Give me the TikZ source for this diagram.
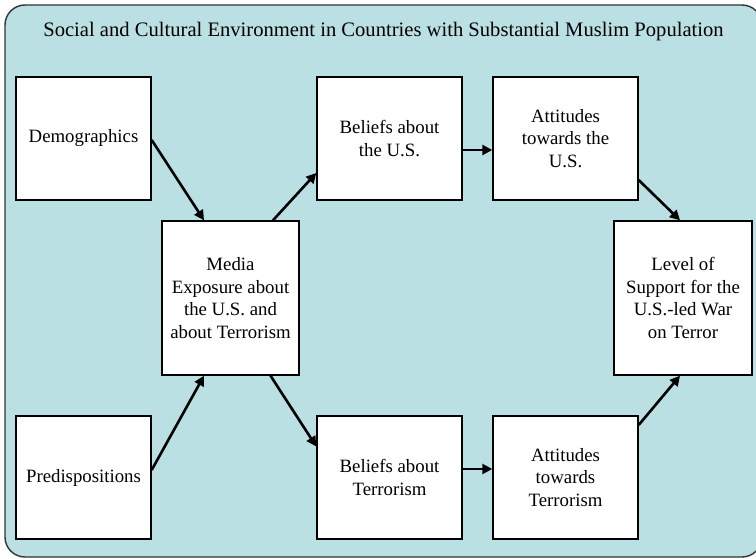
\documentclass[tikz,border=0pt]{standalone}
\usepackage{fontspec}
\setmainfont{Liberation Serif}
\usetikzlibrary{arrows.meta,calc}
\definecolor{envblue}{RGB}{187,224,227}
\begin{document}
\begin{tikzpicture}[x=1pt,y=-1pt,
  box/.style={draw=black,line width=1.4pt,fill=white,inner sep=0pt,align=center,
    font=\fontsize{18.8}{22.6}\selectfont},
  sbox/.style={box,minimum width=135pt,minimum height=123pt},
  wbox/.style={box,minimum width=145pt,minimum height=123pt},
  tbox/.style={box,minimum width=137pt,minimum height=154pt},
  arr/.style={line width=2.6pt,-{Triangle[length=10pt,width=10pt]}}]
\clip (0,0) rectangle (756,559);
\fill[white] (0,0) rectangle (756,559);
\draw[draw=black!80,line width=1.4pt,fill=envblue,rounded corners=20pt] (5,5) rectangle (762,557);
\node[font=\fontsize{20.6}{24.7}\selectfont] (title) at (383.5,31.5) {Social and Cultural Environment in Countries with Substantial Muslim Population};
\node[sbox] (dem) at (83.5,138.5) {Demographics};
\node[sbox] (pre) at (83.5,477.5) {Predispositions};
\node[tbox] (media) at (230.5,298) {Media\\Exposure about\\the U.S. and\\about Terrorism};
\node[wbox] (bus) at (389.5,138.5) {Beliefs about\\the U.S.};
\node[wbox] (aus) at (565.5,138.5) {Attitudes\\towards the\\U.S.};
\node[box,minimum width=138pt,minimum height=154pt] (lev) at (683,298) {Level of\\Support for the\\U.S.-led War\\on Terror};
\node[wbox] (bt) at (389.5,477.5) {Beliefs about\\Terrorism};
\node[wbox] (at) at (565.5,477.5) {Attitudes\\towards\\Terrorism};
\draw[arr] ($(dem.east)+(0,1.5)$) -- ($(media.north)+(-26.5,0)$);
\draw[arr] ($(media.north)+(42.5,0)$) -- ($(bus.west)+(0,34.5)$);
\draw[arr] ($(bus.east)+(0,11.5)$) -- ($(aus.west)+(0,11.5)$);
\draw[arr] ($(aus.east)+(0,41.5)$) -- ($(lev.north)+(-3,0)$);
\draw[arr] ($(pre.east)+(0,-7.5)$) -- ($(media.south)+(-26.5,0)$);
\draw[arr] ($(media.south)+(40,0)$) -- ($(bt.west)+(0,-31)$);
\draw[arr] ($(bt.east)+(0,-8.5)$) -- ($(at.west)+(0,-8.5)$);
\draw[arr] ($(at.east)+(0,-52.5)$) -- ($(lev.south)+(-3,0)$);
\end{tikzpicture}
\end{document}
